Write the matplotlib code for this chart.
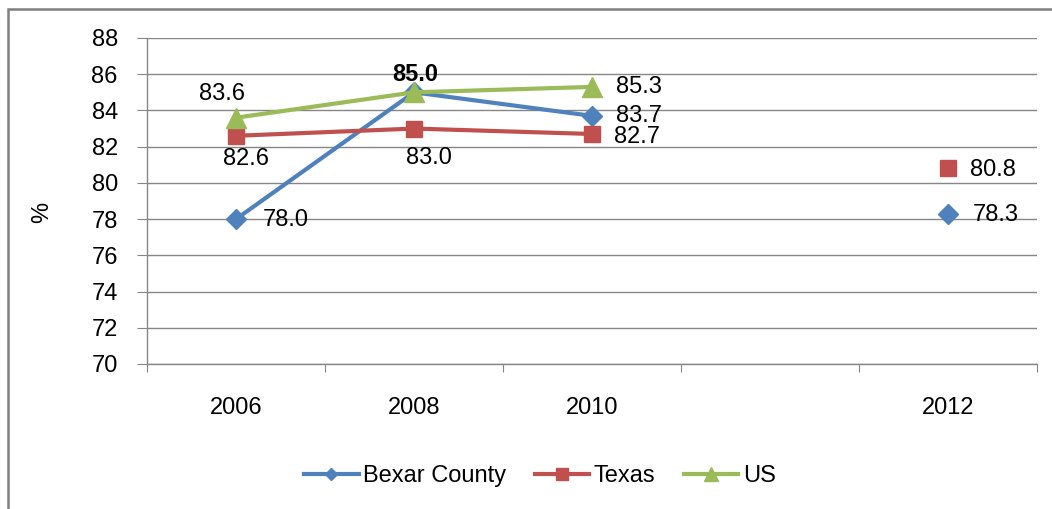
import numpy as np
import matplotlib
matplotlib.use('Agg')
import matplotlib.pyplot as plt
from matplotlib.patches import Rectangle
from matplotlib.lines import Line2D

plt.rcParams['font.family'] = ['Liberation Sans', 'DejaVu Sans']

# data (2011 slot is empty in the original chart)
years = ['2006', '2008', '2010', '', '2012']
bexar = [78.0, 85.0, 83.7, np.nan, 78.3]
texas = [82.6, 83.0, 82.7, np.nan, 80.8]
us = [83.6, 85.0, 85.3, np.nan, np.nan]

blue = '#4F81BD'
red = '#C0504D'
green = '#9BBB59'

fig = plt.figure(figsize=(10.52, 5.09), dpi=100)
ax = fig.add_axes([147 / 1052, 1 - 364 / 509, (1037 - 147) / 1052, (364 - 38) / 509])

x = np.arange(len(years))
ax.plot(x, bexar, color=blue, lw=3, marker='D', ms=10, label='Bexar County')
ax.plot(x, texas, color=red, lw=3, marker='s', ms=11, label='Texas')
ax.plot(x, us, color=green, lw=3, marker='^', ms=14, label='US')

# data labels, offsets in points
fs = 17
lbl_off = {
    'bexar': [(19, -1, 'left'), (1, 13, 'center'), (17, 0, 'left'), None, (18, -1, 'left')],
    'texas': [(7, -17, 'center'), (11, -21, 'center'), (16, -2, 'left'), None, (16, -1, 'left')],
    'us': [(-10, 17, 'center'), None, (17, 0, 'left'), None, None],
}
for key, vals in [('bexar', bexar), ('texas', texas), ('us', us)]:
    for i, v in enumerate(vals):
        off = lbl_off[key][i]
        if off is None or np.isnan(v):
            continue
        dx, dy, ha = off
        ax.annotate('%.1f' % v, (i, v), xytext=(dx, dy), textcoords='offset points',
                    ha=ha, va='center', fontsize=fs, color='black',
                    fontweight='bold' if (key == 'bexar' and i == 1) else 'normal')

ax.set_ylim(70, 88)
ax.set_yticks(np.arange(70, 89, 2))
ax.set_xlim(-0.5, len(years) - 0.5)
ax.set_xticks(np.arange(-0.5, len(years)), [])
ax.set_xticks(x, years, minor=True)
ax.tick_params(axis='x', which='major', length=6, color='#868686', direction='out')
ax.tick_params(axis='x', which='minor', length=0, pad=24, labelsize=fs)
ax.tick_params(axis='y', length=7, color='#868686', pad=14, labelsize=fs)
ax.grid(axis='y', color='#868686', lw=1)
ax.set_axisbelow(True)
for s in ['top', 'right']:
    ax.spines[s].set_visible(False)
for s in ['left', 'bottom']:
    ax.spines[s].set_color('#868686')
    ax.spines[s].set_linewidth(1)

fig.text(42 / 1052, 1 - 212 / 509, '%', rotation=90, ha='center', va='center', fontsize=fs)

handles = [
    Line2D([], [], color=blue, lw=3, marker='D', ms=6),
    Line2D([], [], color=red, lw=3, marker='s', ms=8),
    Line2D([], [], color=green, lw=3, marker='^', ms=10),
]
fig.legend(handles, ['Bexar County', 'Texas', 'US'], loc='center',
           bbox_to_anchor=(540 / 1052, 1 - 476 / 509), ncol=3, frameon=False,
           fontsize=fs, handlelength=2.3, handletextpad=0.2, columnspacing=1.2)

# outer chart frame (cut off on the right and bottom)
fig.patches.append(Rectangle((8 / 1052, -0.2), 1.2, 1 - 9 / 509 + 0.2,
                             transform=fig.transFigure, fill=False,
                             edgecolor='#7f7f7f', lw=1.8))

fig.savefig('out.png', dpi=100)
